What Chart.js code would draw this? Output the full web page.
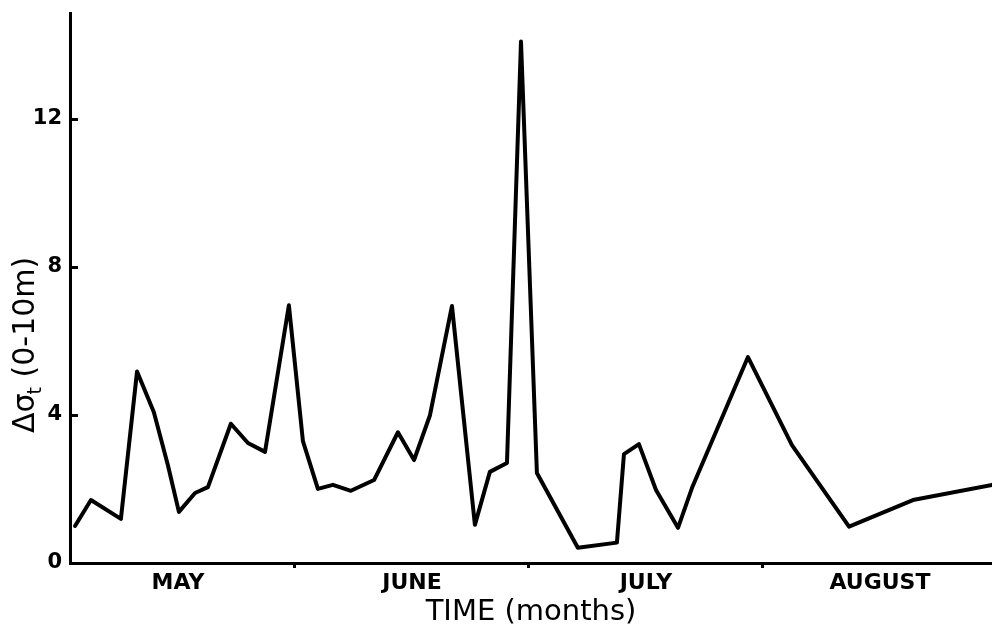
<!DOCTYPE html>
<html>
<head>
<meta charset="utf-8">
<script src="https://cdn.jsdelivr.net/npm/chart.js@4.4.1/dist/chart.umd.min.js"></script>
<style>
  html, body { margin: 0; padding: 0; background: #fff; }
  #wrap { width: 992px; height: 627px; }
</style>
</head>
<body>
<div id="wrap"><canvas id="chart" width="992" height="627"></canvas></div>
<script>
// Time axis in months since 1 May (1 = June, 2 = July, 3 = August)
const timeMonths = [
  0.060, 0.128, 0.256, 0.325, 0.397, 0.457, 0.504, 0.573, 0.628, 0.726,
  0.799, 0.872, 0.974, 1.034, 1.098, 1.162, 1.239, 1.338, 1.440, 1.509,
  1.577, 1.671, 1.722, 1.769, 1.833, 1.906, 1.966, 2.034, 2.209, 2.376,
  2.406, 2.470, 2.543, 2.637, 2.697, 2.936, 3.124, 3.368, 3.641, 3.979
];
// Density difference between 0 and 10 m
const deltaSigmaT = [
  1.00, 1.70, 1.19, 5.17, 4.07, 2.64, 1.38, 1.89, 2.05, 3.76,
  3.24, 3.00, 6.96, 3.29, 2.00, 2.11, 1.95, 2.24, 3.53, 2.78,
  3.99, 6.94, 3.86, 1.03, 2.46, 2.70, 14.08, 2.43, 0.41, 0.55,
  2.94, 3.21, 1.97, 0.95, 2.03, 5.56, 3.18, 0.98, 1.70, 2.11
];
const monthLabels = ['MAY', 'JUNE', 'JULY', 'AUGUST'];
const monthBoundaries = [1, 2, 3];
const yTickValues = [0, 4, 8, 12];
const xTitle = 'TIME (months)';
const yTitleMain = 'Δσ';
const yTitleSub = 't';
const yTitleRest = ' (0-10m)';

const points = timeMonths.map((t, i) => ({ x: t, y: deltaSigmaT[i] }));
// month names sit mid-month, tick marks sit on month boundaries
const xTickValues = [];
monthLabels.forEach((m, i) => {
  xTickValues.push(i + 0.5);
  if (i < monthBoundaries.length) xTickValues.push(monthBoundaries[i]);
});
const isBoundary = v => monthBoundaries.some(b => Math.abs(b - v) < 1e-9);

// rotated y-axis title with a subscript, plus inward-pointing y tick marks
const axisExtras = {
  id: 'axisExtras',
  afterDraw(chart) {
    const ctx = chart.ctx;
    const yScale = chart.scales.y;
    const left = chart.chartArea.left;
    ctx.save();
    ctx.strokeStyle = '#000';
    ctx.lineWidth = 3;
    yTickValues.forEach(v => {
      if (v === 0) return;
      const py = Math.round(yScale.getPixelForValue(v)) + 0.5;
      ctx.beginPath();
      ctx.moveTo(left, py);
      ctx.lineTo(left + 8, py);
      ctx.stroke();
    });
    ctx.restore();

    ctx.save();
    ctx.translate(34, 433);
    ctx.rotate(-Math.PI / 2);
    ctx.fillStyle = '#000';
    ctx.textBaseline = 'alphabetic';
    ctx.textAlign = 'left';
    ctx.font = '30px "DejaVu Sans"';
    ctx.fillText(yTitleMain, 0, 0);
    let w = ctx.measureText(yTitleMain).width;
    ctx.font = '19px "DejaVu Sans"';
    ctx.fillText(yTitleSub, w - 1, 7);
    w += ctx.measureText(yTitleSub).width - 1;
    ctx.font = '30px "DejaVu Sans"';
    ctx.fillText(yTitleRest, w, 0);
    ctx.restore();
  }
};

new Chart(document.getElementById('chart'), {
  type: 'line',
  data: {
    datasets: [{
      data: points,
      borderColor: '#000',
      borderWidth: 4,
      borderJoinStyle: 'round',
      borderCapStyle: 'round',
      pointRadius: 0,
      tension: 0,
      fill: false
    }]
  },
  options: {
    responsive: false,
    animation: false,
    devicePixelRatio: 1,
    layout: { padding: 0 },
    plugins: { legend: { display: false }, tooltip: { enabled: false } },
    scales: {
      x: {
        type: 'linear',
        min: 0.0385,
        max: 3.979,
        afterFit(scale) {
          scale.height = 64;
          scale.paddingLeft = 0;
          scale.paddingRight = 0;
        },
        afterBuildTicks(scale) { scale.ticks = xTickValues.map(v => ({ value: v })); },
        border: { display: true, color: '#000', width: 3 },
        grid: {
          drawOnChartArea: false,
          drawTicks: true,
          tickLength: 5,
          tickWidth: 3,
          tickColor: ctx => (ctx.tick && isBoundary(ctx.tick.value)) ? '#000' : 'rgba(0,0,0,0)'
        },
        ticks: {
          autoSkip: false,
          maxRotation: 0,
          padding: 2,
          color: '#000',
          font: { family: '"DejaVu Sans"', size: 22, weight: 'bold' },
          callback: v => isBoundary(v) ? '' : monthLabels[Math.floor(v)]
        },
        title: {
          display: true,
          text: xTitle,
          color: '#000',
          padding: { top: 0, bottom: 0 },
          font: { family: '"DejaVu Sans"', size: 29, weight: 'normal', lineHeight: 1.0 }
        }
      },
      y: {
        type: 'linear',
        min: 0,
        max: 14.85,
        afterFit(scale) {
          scale.width = 70;
          scale.paddingTop = 13;
          scale.paddingBottom = 0;
        },
        afterBuildTicks(scale) { scale.ticks = yTickValues.map(v => ({ value: v })); },
        border: { display: true, color: '#000', width: 3 },
        grid: {
          drawOnChartArea: false,
          drawTicks: false
        },
        ticks: {
          padding: 8,
          color: '#000',
          font: { family: '"DejaVu Sans"', size: 21, weight: 'bold', lineHeight: 1.0 }
        }
      }
    }
  },
  plugins: [axisExtras]
});
</script>
</body>
</html>
